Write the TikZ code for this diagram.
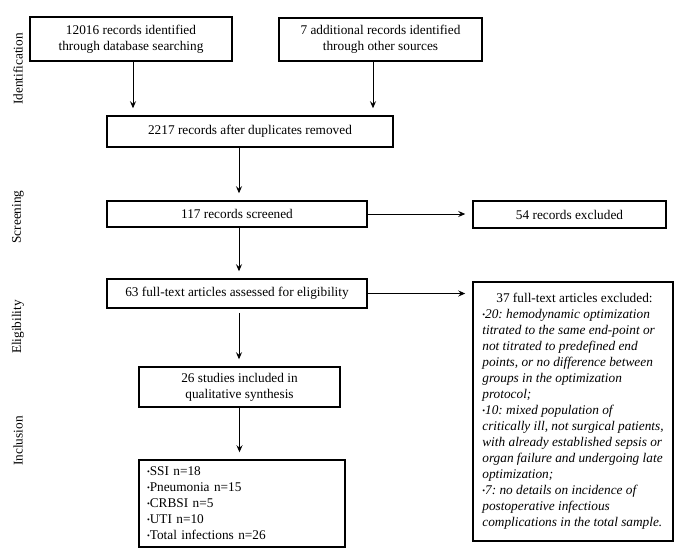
\documentclass[tikz,border=0pt]{standalone}
\usepackage{fontspec}
\setmainfont{Liberation Serif}
\usetikzlibrary{arrows.meta}
\newcommand{\bul}{\raisebox{0.25ex}{\scalebox{0.6}{\textbullet}}}
\frenchspacing
\begin{document}
\begin{tikzpicture}[x=1pt,y=-1pt,
  every node/.style={font=\fontsize{13.3}{16}\selectfont},
  box/.style={draw,line width=1.5pt,inner sep=0pt,align=center},
  arr/.style={line width=0.9pt,-{Stealth[length=7pt,width=6pt,inset=2.5pt]},shorten >=7pt},
  side/.style={rotate=90,inner sep=0pt}]
\useasboundingbox (0,0) rectangle (685,555);
\node[box,minimum width=202pt,minimum height=44pt] (b1) at (131,39) {12016 records identified\\through database searching};
\node[box,minimum width=203pt,minimum height=43pt] (b2) at (380.5,39.5) {7 additional records identified\\through other sources};
\node[box,minimum width=286pt,minimum height=31pt] (b3) at (250,131.5) {2217 records after duplicates removed};
\node[box,minimum width=260pt,minimum height=26pt] (b4) at (237,214) {117 records screened};
\node[box,minimum width=193pt,minimum height=27pt] (b5) at (569.5,214.5) {54 records excluded};
\node[box,minimum width=260pt,minimum height=29pt] (b6) at (237,293.5) {63 full-text articles assessed for eligibility};
\node[box,minimum width=200pt,minimum height=259pt,align=left] (b7) at (573,411.5) {\hspace*{14pt}37 full-text articles excluded:\\
\bul\textit{20: hemodynamic optimization}\\
\textit{titrated to the same end-point or}\\
\textit{not titrated to predefined end}\\
\textit{points, or no difference between}\\
\textit{groups in the optimization}\\
\textit{protocol;}\\
\bul\textit{10: mixed population of}\\
\textit{critically ill, not surgical patients,}\\
\textit{with already established sepsis or}\\
\textit{organ failure and undergoing late}\\
\textit{optimization;}\\
\bul\textit{7: no details on incidence of}\\
\textit{postoperative infectious}\\
\textit{complications in the total sample.}};
\node[box,minimum width=201pt,minimum height=40pt] (b8) at (239.5,387) {26 studies included in\\qualitative synthesis};
\node[box,minimum width=206pt,minimum height=87pt,align=left,text width=190pt] (b9) at (242,503.5) {\bul SSI n=18\\\bul Pneumonia n=15\\\bul CRBSI n=5\\\bul UTI n=10\\\bul Total infections n=26};
\node[side] (l1) at (18,69) {Identification};
\node[side] (l2) at (18,217) {Screening};
\node[side] (l3) at (18,327) {Eligibility};
\node[side] (l4) at (18,441) {Inclusion};
\draw[arr] ([xshift=2pt]b1.south) -- ([xshift=2pt]b1.south |- b3.north);
\draw[arr] ([xshift=-7.5pt]b2.south) -- ([xshift=-7.5pt]b2.south |- b3.north);
\draw[arr] ([xshift=-11pt]b3.south) -- ([xshift=-11pt]b3.south |- b4.north);
\draw[arr] (b4.east) -- (b4.east -| b5.west);
\draw[arr] ([xshift=2pt]b4.south) -- ([xshift=2pt]b4.south |- b6.north);
\draw[arr] (b6.east) -- (b6.east -| b7.west);
\draw[arr,shorten <=4pt] ([xshift=2pt]b6.south) -- ([xshift=2pt]b6.south |- b8.north);
\draw[arr] (b8.south) -- (b8.south |- b9.north);
\end{tikzpicture}
\end{document}
